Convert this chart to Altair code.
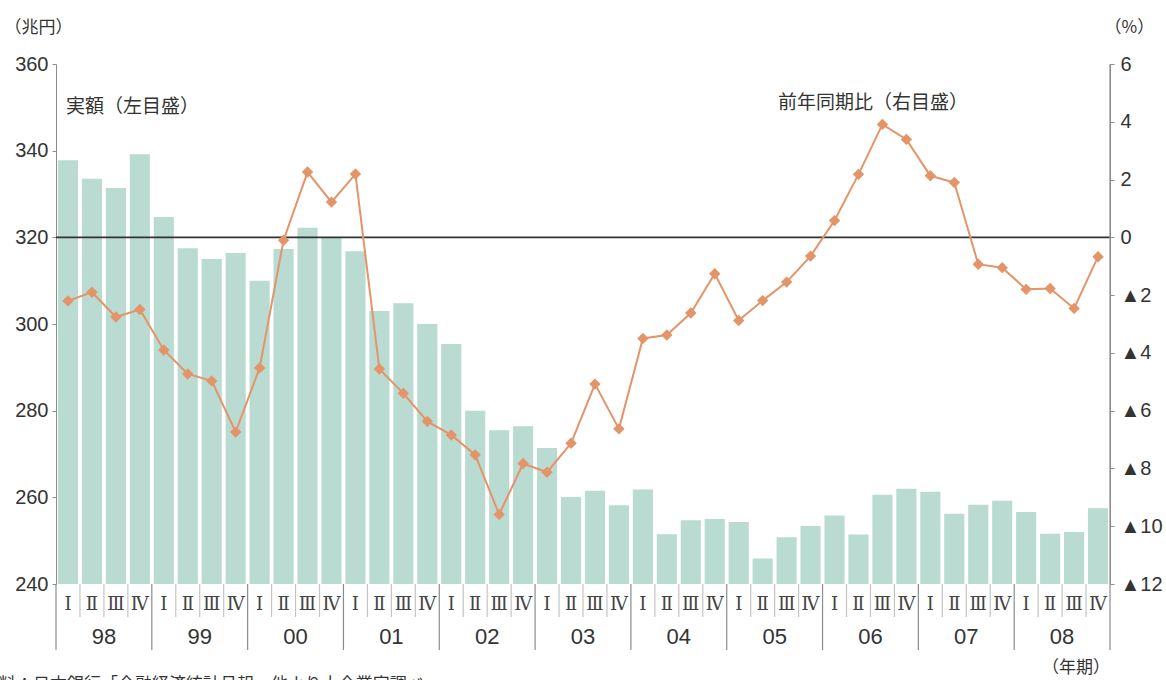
import altair as alt
import pandas as pd

# Quarterly series, 1998 Q1 - 2008 Q4
years = ["98", "99", "00", "01", "02", "03", "04", "05", "06", "07", "08"]
quarter_marks = ["Ⅰ", "Ⅱ", "Ⅲ", "Ⅳ"]

# 実額（兆円）
amount = [
    337.8, 333.5, 331.4, 339.2,
    324.7, 317.5, 315.0, 316.4,
    310.0, 317.3, 322.2, 320.0,
    316.8, 303.0, 304.8, 300.0,
    295.4, 280.0, 275.5, 276.4,
    271.4, 260.1, 261.5, 258.2,
    261.8, 251.5, 254.7, 255.0,
    254.3, 245.9, 250.8, 253.4,
    255.8, 251.4, 260.6, 262.0,
    261.3, 256.2, 258.3, 259.2,
    256.6, 251.6, 252.0, 257.5,
]

# 前年同期比（%）
yoy = [
    -2.2, -1.9, -2.76, -2.5,
    -3.9, -4.73, -4.97, -6.74,
    -4.52, -0.1, 2.26, 1.22,
    2.19, -4.56, -5.4, -6.37,
    -6.84, -7.53, -9.59, -7.83,
    -8.13, -7.13, -5.08, -6.63,
    -3.5, -3.38, -2.62, -1.26,
    -2.88, -2.19, -1.55, -0.65,
    0.58, 2.18, 3.91, 3.39,
    2.13, 1.9, -0.93, -1.05,
    -1.8, -1.77, -2.46, -0.67,
]

keys = [f"{y}-{i + 1}" for y in years for i in range(4)]
df = pd.DataFrame({
    "key": keys,
    "year": [y for y in years for _ in range(4)],
    "qnum": [i + 1 for _ in years for i in range(4)],
    "qlabel": [quarter_marks[i] for _ in years for i in range(4)],
    "amount": amount,
    "yoy": yoy,
})

W, H = 1054, 520
BAR = "#B9DBD2"
LINE = "#E39468"
AXIS_GRAY = "#8c8c8c"
FONT = "Liberation Sans"
JP = "Noto Sans CJK JP"

x_enc = alt.X("key:N", sort=keys, axis=None,
              scale=alt.Scale(paddingInner=0, paddingOuter=0))
x_start = alt.X("key:N", sort=keys, axis=None, bandPosition=0)
x_end = alt.X("key:N", sort=keys, axis=None, bandPosition=1)

base = alt.Chart(df)

bars = base.mark_bar(color=BAR, width=alt.RelativeBandSize(0.84), clip=True).encode(
    x=x_enc,
    y=alt.Y("amount:Q",
            scale=alt.Scale(domain=[240, 360], nice=False, zero=False),
            axis=alt.Axis(values=[240, 260, 280, 300, 320, 340, 360],
                          grid=False, domainColor=AXIS_GRAY, tickColor=AXIS_GRAY,
                          tickSize=4, labelFontSize=20, labelFont=FONT,
                          labelColor="#333333", labelPadding=4,
                          title="（兆円）", titleAngle=0, titleFont=JP,
                          titleFontSize=17, titleFontWeight="normal",
                          titleColor="#333333", titleAlign="left",
                          titleBaseline="middle", titleX=-52, titleY=-37)),
)

zero_rule = alt.Chart(pd.DataFrame({"v": [320]})).mark_rule(
    color="#333333", strokeWidth=1.6
).encode(y=alt.Y("v:Q"))

# separators below the plot: short ones between quarters, long ones between years
quarter_sep = base.transform_filter("datum.qnum != 1").mark_rule(
    color="#c4c4c4", strokeWidth=1.2
).encode(x=x_start, y=alt.value(H), y2=alt.value(H + 33))

year_sep = base.transform_filter("datum.qnum == 1").mark_rule(
    color=AXIS_GRAY, strokeWidth=1.2
).encode(x=x_start, y=alt.value(H), y2=alt.value(H + 66))

end_sep = base.transform_filter(f"datum.key == '{keys[-1]}'").mark_rule(
    color=AXIS_GRAY, strokeWidth=1.2
).encode(x=x_end, y=alt.value(0), y2=alt.value(H + 66))

quarter_text = base.mark_text(
    font="DejaVu Serif", fontSize=18, color="#444444", baseline="middle"
).encode(x=x_enc, y=alt.value(H + 21), text="qlabel:N")

year_text = base.transform_filter("datum.qnum == 2").mark_text(
    font=FONT, fontSize=22, color="#333333", baseline="middle"
).encode(x=x_end, y=alt.value(H + 53), text="year:N")


def note(text, px, py, align, size=17):
    return alt.Chart(pd.DataFrame({"t": [text]})).mark_text(
        font=JP, fontSize=size, color="#333333", baseline="middle", align=align
    ).encode(x=alt.value(px), y=alt.value(py), text="t:N")


notes = alt.layer(
    note("実額（左目盛）", 10, 43, "left", 19),
    note("前年同期比（右目盛）", 722, 39, "left", 19),
    note("（年期）", W, H + 84, "right"),
    note("資料：日本銀行「金融経済統計月報」他より大企業家調べ", -74, H + 101, "left"),
)

left_layer = alt.layer(bars, zero_rule, quarter_sep, year_sep, end_sep,
                       quarter_text, year_text)

right_axis = alt.Axis(
    orient="right", values=[6, 4, 2, 0, -2, -4, -6, -8, -10, -12], grid=False,
    labelExpr="datum.value < 0 ? '▲' + abs(datum.value) : '' + datum.value",
    domainColor=AXIS_GRAY, tickColor=AXIS_GRAY, tickSize=4,
    labelFontSize=20, labelFont=FONT, labelColor="#333333", labelPadding=6,
    title="（%）", titleAngle=0, titleFont=JP, titleFontSize=17,
    titleFontWeight="normal", titleColor="#333333", titleAlign="left",
    titleBaseline="middle", titleX=-6, titleY=-37,
)
y_right = alt.Y("yoy:Q", scale=alt.Scale(domain=[-12, 6], nice=False),
                axis=right_axis)

line = base.mark_line(color=LINE, strokeWidth=2).encode(x=x_enc, y=y_right)
points = base.mark_point(shape="diamond", filled=True, color=LINE, size=130,
                         opacity=1).encode(x=x_enc, y=y_right)

right_layer = alt.layer(line, points)

chart = alt.layer(left_layer, right_layer, notes).resolve_scale(
    y="independent"
).properties(
    width=W, height=H,
    padding={"left": 56, "top": 64, "right": 56, "bottom": 96},
    autosize=alt.AutoSizeParams(type="none"),
    background="white",
).configure_view(stroke=None)

chart.save("out.html", embed_options={"renderer": "svg", "actions": False})
